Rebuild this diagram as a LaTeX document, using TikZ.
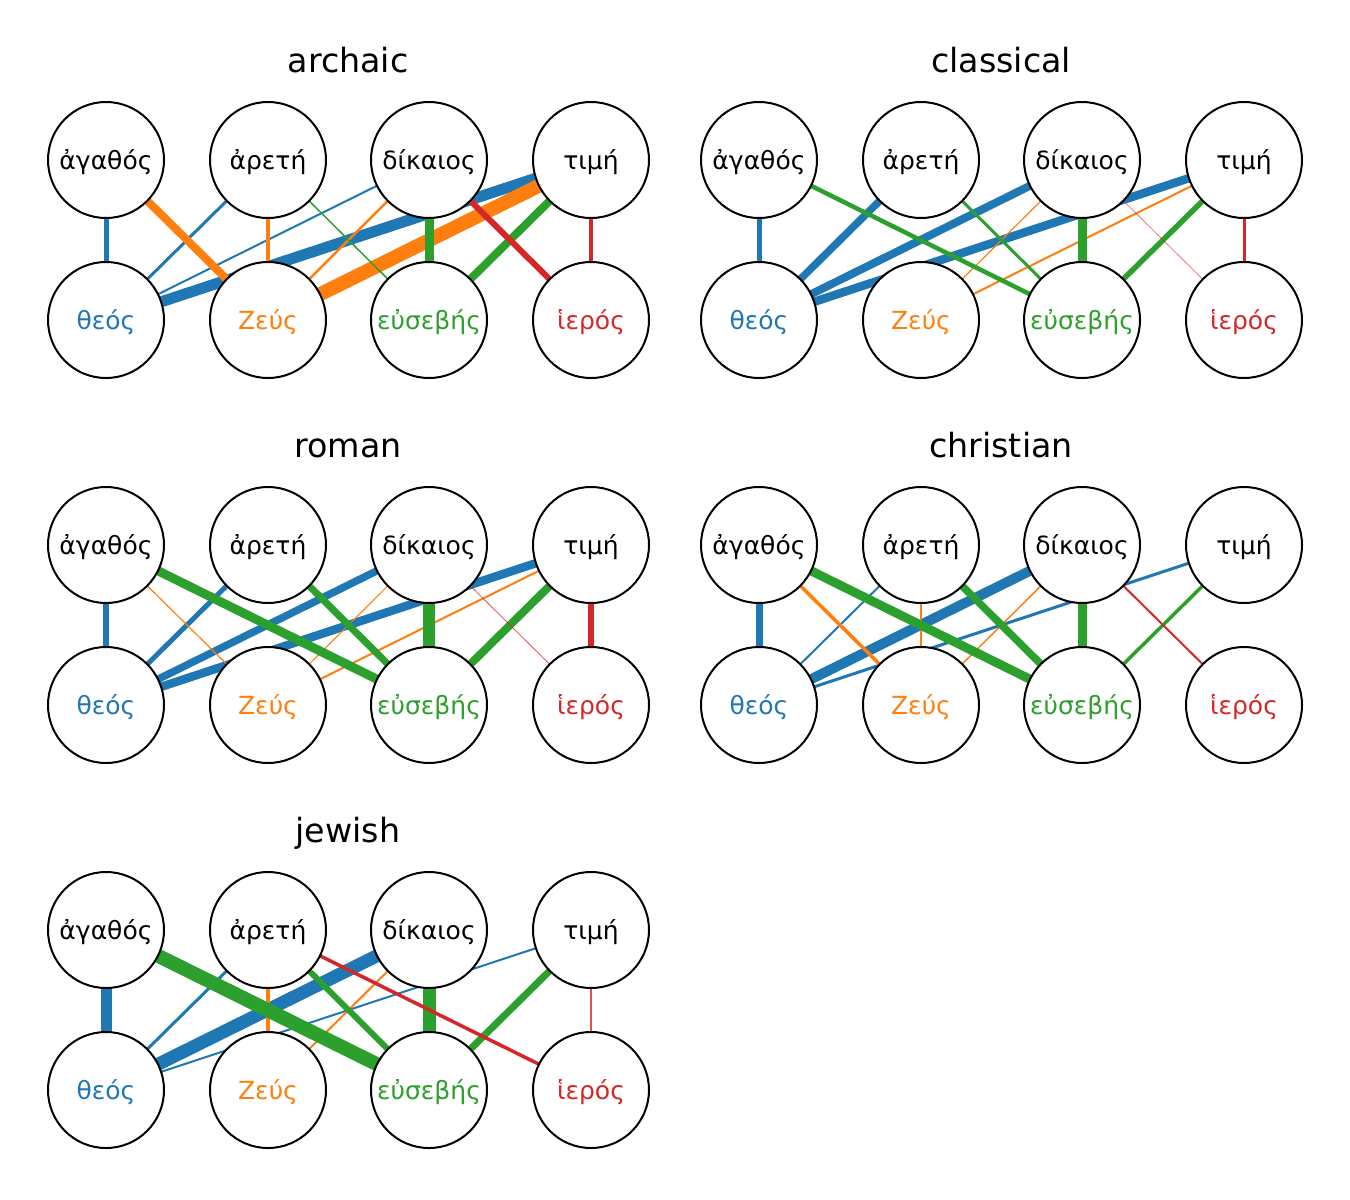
\documentclass[tikz,border=0pt]{standalone}
\usepackage{fontspec}
\setmainfont{DejaVu Sans}
\definecolor{tblue}{HTML}{1F77B4}
\definecolor{torange}{HTML}{FF7F0E}
\definecolor{tgreen}{HTML}{2CA02C}
\definecolor{tred}{HTML}{D62728}
\pgfdeclarelayer{bg}
\pgfsetlayers{bg,main}
\tikzset{
  vnode/.style={circle, draw=black, line width=2pt, fill=white, minimum size=116pt, inner sep=0pt,
    font=\fontsize{25}{30}\selectfont, text height=23.5pt, text depth=5.2pt},
  ptitle/.style={font=\fontsize{33.3}{40}\selectfont, inner sep=0pt, anchor=base},
  eb/.style={draw=tblue},
  eo/.style={draw=torange},
  eg/.style={draw=tgreen},
  er/.style={draw=tred},
}
\newcommand\drawpanel[4]{%
  \node[ptitle] (#1title) at (#2+348,#3+72) {#4};
  \node[vnode] (#1A) at (#2+106,#3+160) {ἀγαθός};
  \node[vnode] (#1R) at (#2+268,#3+160) {ἀρετή};
  \node[vnode] (#1D) at (#2+429,#3+160) {δίκαιος};
  \node[vnode] (#1T) at (#2+591,#3+160) {τιμή};
  \node[vnode, text=tblue] (#1Th) at (#2+106,#3+320) {θεός};
  \node[vnode, text=torange] (#1Z) at (#2+268,#3+320) {Ζεύς};
  \node[vnode, text=tgreen] (#1E) at (#2+429,#3+320) {εὐσεβής};
  \node[vnode, text=tred] (#1I) at (#2+591,#3+320) {ἱερός};
}
\newcommand\edge[4]{\draw[#1, line width=#2pt] (#3.center) -- (#4.center);}
\begin{document}
\begin{tikzpicture}[x=1pt,y=-1pt]
\useasboundingbox (0,0) rectangle (1350,1200);
\drawpanel{a}{0}{0}{archaic}
\drawpanel{c}{653}{0}{classical}
\drawpanel{r}{0}{385}{roman}
\drawpanel{h}{653}{385}{christian}
\drawpanel{j}{0}{770}{jewish}
\begin{pgfonlayer}{bg}
\fill[white] (0,0) rectangle (1350,1200);
% archaic
\edge{eb}{5}{aA}{aTh}
\edge{eb}{3}{aR}{aTh}
\edge{eb}{2}{aD}{aTh}
\edge{eb}{11}{aT}{aTh}
\edge{eo}{8}{aA}{aZ}
\edge{eo}{4.5}{aR}{aZ}
\edge{eo}{2.5}{aD}{aZ}
\edge{eo}{14}{aT}{aZ}
\edge{eg}{1.5}{aR}{aE}
\edge{eg}{9}{aD}{aE}
\edge{eg}{8}{aT}{aE}
\edge{er}{6}{aD}{aI}
\edge{er}{3.5}{aT}{aI}
% classical
\edge{eb}{5}{cA}{cTh}
\edge{eb}{7.5}{cR}{cTh}
\edge{eb}{8}{cD}{cTh}
\edge{eb}{8.5}{cT}{cTh}
\edge{eo}{1.2}{cD}{cZ}
\edge{eo}{2}{cT}{cZ}
\edge{eg}{4.5}{cA}{cE}
\edge{eg}{3}{cR}{cE}
\edge{eg}{9}{cD}{cE}
\edge{eg}{5.5}{cT}{cE}
\edge{er, opacity=0.6}{0.8}{cD}{cI}
\edge{er}{3}{cT}{cI}
% roman
\edge{eb}{5.5}{rA}{rTh}
\edge{eb}{5}{rR}{rTh}
\edge{eb}{7.5}{rD}{rTh}
\edge{eb}{8.5}{rT}{rTh}
\edge{eo}{1.2}{rA}{rZ}
\edge{eo}{1}{rD}{rZ}
\edge{eo}{2}{rT}{rZ}
\edge{eg}{9}{rA}{rE}
\edge{eg}{7}{rR}{rE}
\edge{eg}{12.5}{rD}{rE}
\edge{eg}{8}{rT}{rE}
\edge{er, opacity=0.8}{0.8}{rD}{rI}
\edge{er}{5.5}{rT}{rI}
% christian
\edge{eb}{7}{hA}{hTh}
\edge{eb}{2}{hR}{hTh}
\edge{eb}{10}{hD}{hTh}
\edge{eb}{3}{hT}{hTh}
\edge{eo}{3.5}{hA}{hZ}
\edge{eo}{1.2}{hR}{hZ}
\edge{eo}{1.5}{hD}{hZ}
\edge{eg}{9}{hA}{hE}
\edge{eg}{7.5}{hR}{hE}
\edge{eg}{9}{hD}{hE}
\edge{eg}{3.5}{hT}{hE}
\edge{er}{2}{hD}{hI}
% jewish
\edge{eb}{11}{jA}{jTh}
\edge{eb}{3}{jR}{jTh}
\edge{eb}{13}{jD}{jTh}
\edge{eb}{2}{jT}{jTh}
\edge{eo}{4.5}{jR}{jZ}
\edge{eo}{2}{jD}{jZ}
\edge{eg}{14}{jA}{jE}
\edge{eg}{6}{jR}{jE}
\edge{eg}{13}{jD}{jE}
\edge{eg}{7}{jT}{jE}
\edge{er}{3.5}{jR}{jI}
\edge{er, opacity=0.8}{2}{jT}{jI}
\end{pgfonlayer}
\end{tikzpicture}
\end{document}
